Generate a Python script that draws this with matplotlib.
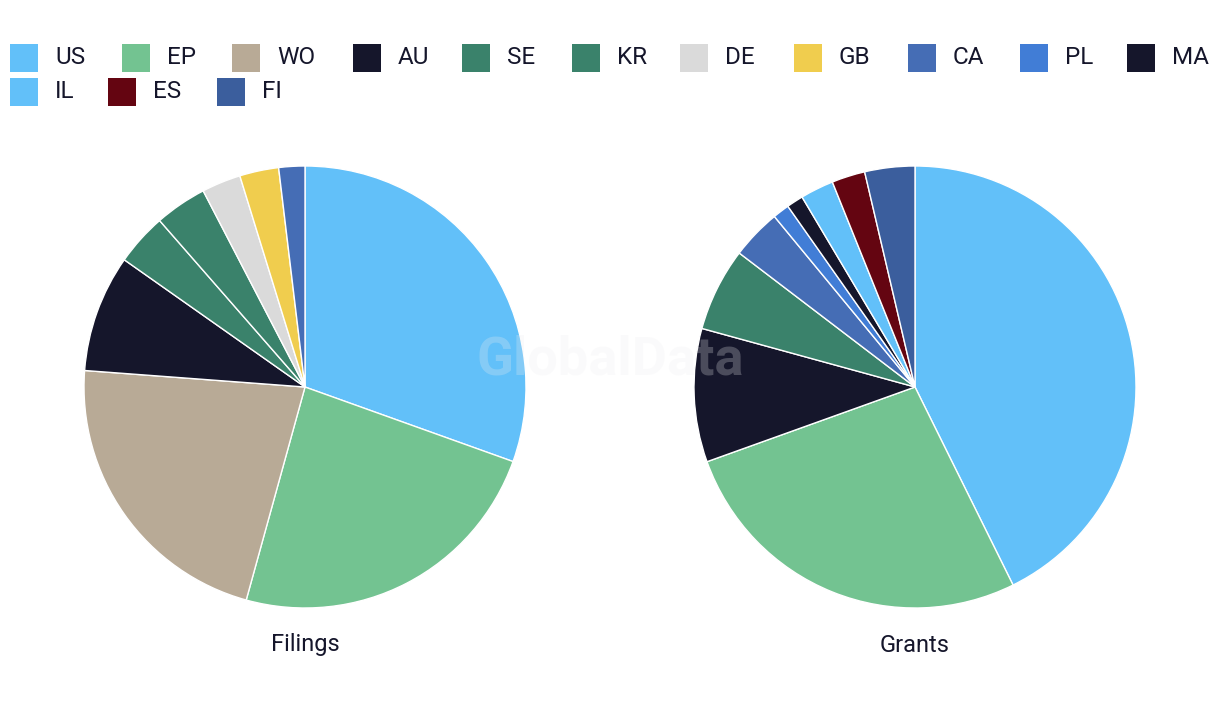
import matplotlib
matplotlib.use("Agg")
import matplotlib.pyplot as plt
from matplotlib.patches import Rectangle

plt.rcParams["font.family"] = ["Roboto", "DejaVu Sans"]

# legend order and colours
CODES = ["US", "EP", "WO", "AU", "SE", "KR", "DE", "GB", "CA", "PL", "MA", "IL", "ES", "FI"]
COLORS = {
    "US": "#62c0f9", "EP": "#73c391", "WO": "#b8aa96", "AU": "#15162b",
    "SE": "#3a826b", "KR": "#3a826b", "DE": "#dadada", "GB": "#f0cd4e",
    "CA": "#456db5", "PL": "#417dd6", "MA": "#15162b", "IL": "#62c0f9",
    "ES": "#640511", "FI": "#3b5e9d",
}

filing_codes = ["US", "EP", "WO", "AU", "SE", "KR", "DE", "GB", "CA"]
filing_counts = [32, 25, 23, 9, 4, 4, 3, 3, 2]

grant_codes = ["US", "EP", "AU", "SE", "CA", "PL", "MA", "IL", "ES", "FI"]
grant_counts = [35, 22, 8, 5, 3, 1, 1, 2, 2, 3]

W, H = 1220, 720
TEXT = "#15162b"
fig = plt.figure(figsize=(W / 100, H / 100), dpi=100)
ax = fig.add_axes([0, 0, 1, 1])

R = 221
for codes, counts, cx, title in [(filing_codes, filing_counts, 305, "Filings"),
                                 (grant_codes, grant_counts, 915, "Grants")]:
    ax.pie(counts, colors=[COLORS[c] for c in codes], startangle=90,
           counterclock=False, center=(cx, H - 387), radius=R, frame=True,
           wedgeprops=dict(edgecolor="white", linewidth=1))
    ax.text(cx, H - 645, title, ha="center", va="center", fontsize=17, color=TEXT)

ax.set_xlim(0, W)
ax.set_ylim(0, H)
ax.set_aspect("equal")
ax.axis("off")

# faint watermark
ax.text(610, H - 360, "GlobalData", ha="center", va="center", fontsize=39,
        fontweight="bold", color="#eeeef0", alpha=0.25, zorder=5)

# legend: two rows of swatch + code, left edges as in the original layout
rows = [(H - 58, [10, 122, 232, 353, 462, 572, 680, 794, 908, 1020, 1127]),
        (H - 92, [10, 108, 217])]
i = 0
for y, xs in rows:
    for x in xs:
        code = CODES[i]
        ax.add_patch(Rectangle((x, y - 14), 28, 28, color=COLORS[code], lw=0))
        ax.text(x + 45, y, code, fontsize=17.5, color=TEXT, va="center")
        i += 1

fig.savefig("out.png", dpi=100, facecolor="white")
